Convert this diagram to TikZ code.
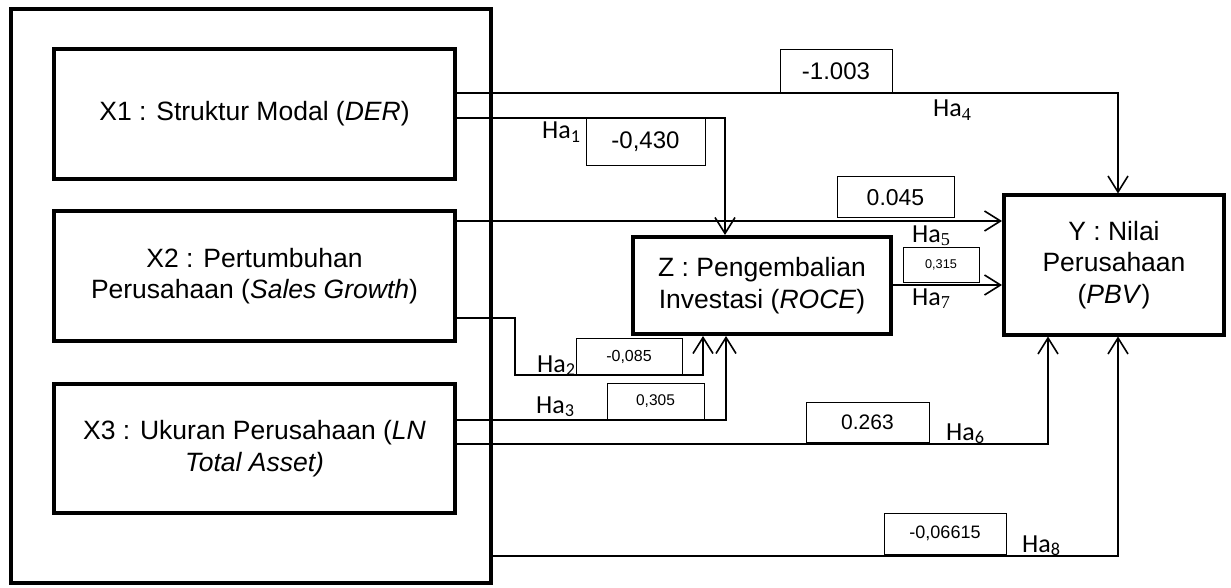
\documentclass[tikz,border=0pt]{standalone}
\usepackage{fontspec}
\setmainfont{Liberation Sans}
\newfontfamily\hafont{Carlito}
\newfontfamily\subfont{Liberation Serif}
\usetikzlibrary{arrows.meta}

\tikzset{
  varbox/.style = {draw, line width=4pt, align=center, inner sep=0pt,
                   font=\fontsize{26.5}{31.5}\selectfont},
  valbox/.style = {draw, line width=1pt, inner sep=0pt},
  conn/.style   = {line width=1.4pt},
  arr/.style    = {conn, -{Straight Barb[length=16pt, width=20pt, line width=1.6pt]}},
  halabel/.style = {anchor=base west, inner sep=0pt, font=\hafont\fontsize{26}{26}\selectfont}
}

\begin{document}
\begin{tikzpicture}[x = 1pt , y = -1pt]
    \useasboundingbox (0,0) rectangle (1231,588);

    % kotak variabel
    \node[varbox, minimum width=480, minimum height=574] (frame) at (251,296) {};
    \node[varbox, minimum width=401, minimum height=130] (x1) at (254.5,114) {X1 : Struktur Modal (\textit{DER})};
    \node[varbox, minimum width=401, minimum height=130] (x2) at (254.5,276) {X2 : Pertumbuhan\\Perusahaan (\textit{Sales Growth})};
    \node[varbox, minimum width=401, minimum height=129] (x3) at (254.5,448.5) {X3 : Ukuran Perusahaan (\textit{LN}\\\textit{Total Asset)}};
    \node[varbox, minimum width=258, minimum height=97] (z) at (762,285.5) {Z : Pengembalian\\Investasi (\textit{ROCE})};
    \node[varbox, minimum width=220, minimum height=139] (y) at (1114,265) {Y : Nilai\\Perusahaan\\(\textit{PBV})};

    % titik belok
    \coordinate (h1) at (725,118);
    \coordinate (h2a) at (515,318);
    \coordinate (h2b) at (703,375);
    \coordinate (h3) at (726,420);
    \coordinate (h4) at (1118,93);
    \coordinate (h5) at (1003,221);
    \coordinate (h6) at (1048,444);
    \coordinate (h7) at (1003,285);
    \coordinate (h8) at (1118,556);

    % jalur
    \draw[arr] (x1.east |- h1) -| (z.north -| h1);
    \draw[arr] (x2.east |- h2a) -- (h2a) |- (h2b) -- (z.south -| h2b);
    \draw[arr] (x3.east |- h3) -| (z.south -| h3);
    \draw[arr] (x1.east |- h4) -| (y.north -| h4);
    \draw[arr] (x2.east |- h5) -- (y.west |- h5);
    \draw[arr] (x3.east |- h6) -| (y.south -| h6);
    \draw[arr] (z.east |- h7) -- (y.west |- h7);
    \draw[arr] (frame.east |- h8) -| (y.south -| h8);

    % koefisien
    \node[valbox, minimum width=119, minimum height=48, font=\fontsize{24}{24}\selectfont] (b1) at (645.5,142) {-0,430};
    \node[valbox, minimum width=106, minimum height=37, font=\fontsize{16}{16}\selectfont] (b2) at (629,356.5) {-0,085};
    \node[valbox, minimum width=97, minimum height=36, font=\fontsize{15.5}{15.5}\selectfont] (b3) at (655.5,401) {0,305};
    \node[valbox, minimum width=112, minimum height=43, font=\fontsize{24}{24}\selectfont] (b4) at (836,71.5) {-1.003};
    \node[valbox, minimum width=117, minimum height=41, font=\fontsize{23}{23}\selectfont] (b5) at (895.5,197.5) {0.045};
    \node[valbox, minimum width=123, minimum height=40, font=\fontsize{21}{21}\selectfont] (b6) at (867.5,422) {0.263};
    \node[valbox, minimum width=76, minimum height=35, font=\fontsize{12.7}{12.7}\selectfont] (b7) at (941,264.5) {0,315};
    \node[valbox, minimum width=122, minimum height=41, font=\fontsize{18}{18}\selectfont] (b8) at (945,533.5) {-0,06615};

    % hipotesis
    \node[halabel] (ha1) at (542,139) {Ha\textsubscript{1}};
    \node[halabel] (ha2) at (537,372) {Ha\textsubscript{2}};
    \node[halabel] (ha3) at (536,413) {Ha\textsubscript{3}};
    \node[halabel] (ha4) at (933,117) {Ha\textsubscript{\subfont 4}};
    \node[halabel] (ha5) at (912,242) {Ha\textsubscript{\subfont 5}};
    \node[halabel] (ha6) at (946,440) {Ha\textsubscript{6}};
    \node[halabel] (ha7) at (912,305) {Ha\textsubscript{\subfont 7}};
    \node[halabel] (ha8) at (1022,552) {Ha\textsubscript{8}};
\end{tikzpicture}
\end{document}
